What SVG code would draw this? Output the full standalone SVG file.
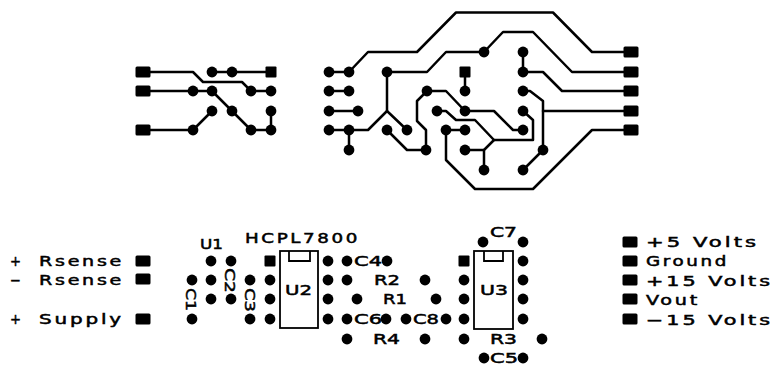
<svg xmlns="http://www.w3.org/2000/svg" width="775" height="367" viewBox="0 0 775 367">
<style>
.t{fill:none;stroke:#000;stroke-width:2.5;stroke-linejoin:round;stroke-linecap:round}
.d{fill:#000}
.b{fill:none;stroke:#000;stroke-width:1.8}
.l{font-family:"DejaVu Sans",sans-serif;font-size:14px;fill:#000;stroke:#000;stroke-width:.5}
.w{letter-spacing:2px}
</style>
<defs>
<circle id="o" r="5.4" class="d"/>
<rect id="p" x="-7.500" y="-5.500" width="15" height="11" rx="1.5" class="d"/>
<rect id="s" x="-5.500" y="-5.500" width="11" height="11" rx="1" class="d"/>
</defs>
<rect width="775" height="367" fill="#fff"/>
<g id="connectors">
<path class="t" d="M143 72H193L203 82H242L251 91H271"/>
<path class="t" d="M212 72H271"/>
<path class="t" d="M143 91H212L251 130H271V111"/>
<path class="t" d="M143 130H193L212 111"/>
<path class="t" d="M329 72H349L368 52H417L456 12.500H553L592 52H631"/>
<path class="t" d="M329 91H349"/>
<path class="t" d="M329 111H358"/>
<path class="t" d="M329 130H368L387 111L407 130"/>
<path class="t" d="M349 130V150"/>
<path class="t" d="M631 72H572L533 32H503L484 52L465 52H446L427 72H387V111"/>
<path class="t" d="M387 130L407 150H426V130L417 121V101L427 91H446L465 111H494L513 130H523"/>
<path class="t" d="M465 72V91"/>
<path class="t" d="M437 111H446L456 120H475L494 140H533V120L523 111"/>
<path class="t" d="M494 140L484 150V170"/>
<path class="t" d="M465 150H484"/>
<path class="t" d="M446 130H465"/>
<path class="t" d="M446 130V160L475 189H533L592 130H631"/>
<path class="t" d="M523 52V72H543L562 91H631"/>
<path class="t" d="M523 91H530L543 101V150L523 170"/>
<path class="t" d="M543 111H631"/>
</g>
<g id="layout-top-left">
<use href="#p" x="143" y="72"/><use href="#p" x="143" y="91"/><use href="#p" x="143" y="130"/>
<use href="#o" x="212" y="72"/><use href="#o" x="232" y="72"/><use href="#s" x="271" y="72"/>
<use href="#o" x="193" y="91"/><use href="#o" x="212" y="91"/><use href="#o" x="251" y="91"/><use href="#o" x="271" y="91"/>
<use href="#o" x="212" y="111"/><use href="#o" x="232" y="111"/><use href="#o" x="271" y="111"/>
<use href="#o" x="193" y="130"/><use href="#o" x="251" y="130"/><use href="#o" x="271" y="130"/>
</g>
<g id="layout-top-right">
<use href="#o" x="329" y="72"/><use href="#o" x="349" y="72"/><use href="#o" x="329" y="91"/><use href="#o" x="349" y="91"/>
<use href="#o" x="329" y="111"/><use href="#o" x="358" y="111"/><use href="#o" x="329" y="130"/><use href="#o" x="349" y="130"/><use href="#o" x="349" y="150"/>
<use href="#o" x="387" y="72"/><use href="#o" x="387" y="130"/><use href="#o" x="407" y="130"/><use href="#o" x="426" y="150"/>
<use href="#o" x="427" y="91"/><use href="#o" x="437" y="111"/><use href="#o" x="465" y="111"/><use href="#o" x="446" y="130"/><use href="#o" x="465" y="130"/><use href="#o" x="465" y="150"/>
<use href="#s" x="465" y="72"/><use href="#o" x="465" y="91"/><use href="#o" x="484" y="52"/><use href="#o" x="484" y="170"/>
<use href="#o" x="523" y="52"/><use href="#o" x="523" y="72"/><use href="#o" x="523" y="91"/><use href="#o" x="523" y="111"/><use href="#o" x="523" y="130"/><use href="#o" x="543" y="150"/><use href="#o" x="523" y="170"/>
<use href="#p" x="631" y="52"/><use href="#p" x="631" y="72"/><use href="#p" x="631" y="91"/><use href="#p" x="631" y="111"/><use href="#p" x="631" y="130"/>
</g>
<g id="labels-left">
<text class="l" x="10" y="266" textLength="11" lengthAdjust="spacingAndGlyphs">+</text>
<text class="l w" x="39" y="266" textLength="85" lengthAdjust="spacingAndGlyphs">Rsense</text>
<use href="#p" x="143" y="261"/>
<text class="l" x="10" y="285" textLength="11" lengthAdjust="spacingAndGlyphs">−</text>
<text class="l w" x="39" y="285" textLength="85" lengthAdjust="spacingAndGlyphs">Rsense</text>
<use href="#p" x="143" y="279"/>
<text class="l" x="10" y="324" textLength="11" lengthAdjust="spacingAndGlyphs">+</text>
<text class="l w" x="39" y="324" textLength="85" lengthAdjust="spacingAndGlyphs">Supply</text>
<use href="#p" x="143" y="319"/>
</g>
<g id="U1">
<text class="l" x="200" y="249" textLength="23" lengthAdjust="spacingAndGlyphs">U1</text>
<use href="#o" x="211" y="261"/><use href="#o" x="231" y="261"/><use href="#o" x="211" y="280"/><use href="#o" x="211" y="299"/><use href="#o" x="231" y="299"/>
</g>
<g id="C1"><use href="#o" x="192" y="280"/><use href="#o" x="192" y="319"/>
<text class="l" transform="translate(186 288) rotate(90)" textLength="23" lengthAdjust="spacingAndGlyphs">C1</text></g>
<g id="C2"><text class="l" transform="translate(225 268) rotate(90)" textLength="25" lengthAdjust="spacingAndGlyphs">C2</text></g>
<g id="C3"><use href="#o" x="250" y="280"/><use href="#o" x="250" y="319"/>
<text class="l" transform="translate(245 288) rotate(90)" textLength="24" lengthAdjust="spacingAndGlyphs">C3</text></g>
<g id="U2">
<text class="l w" x="245" y="243" textLength="115" lengthAdjust="spacingAndGlyphs">HCPL7800</text>
<rect class="b" x="280" y="251" width="38" height="77"/>
<path class="b" d="M289 251V261H310V251"/>
<text class="l" x="285" y="295" textLength="27" lengthAdjust="spacingAndGlyphs">U2</text>
<use href="#s" x="270" y="261"/><use href="#o" x="270" y="280"/><use href="#o" x="270" y="299"/><use href="#o" x="270" y="319"/>
<use href="#o" x="328" y="261"/><use href="#o" x="328" y="280"/><use href="#o" x="328" y="299"/><use href="#o" x="328" y="319"/>
</g>
<g id="C4"><use href="#o" x="347" y="261"/><use href="#o" x="387" y="261"/><text class="l" x="354" y="266" textLength="28" lengthAdjust="spacingAndGlyphs">C4</text></g>
<g id="R2"><use href="#o" x="347" y="280"/><use href="#o" x="425" y="280"/><text class="l" x="374" y="285" textLength="26" lengthAdjust="spacingAndGlyphs">R2</text></g>
<g id="R1"><use href="#o" x="357" y="299"/><use href="#o" x="436" y="299"/><text class="l" x="383" y="304" textLength="24" lengthAdjust="spacingAndGlyphs">R1</text></g>
<g id="C6"><use href="#o" x="347" y="319"/><use href="#o" x="386" y="319"/><text class="l" x="354" y="324" textLength="28" lengthAdjust="spacingAndGlyphs">C6</text></g>
<g id="C8"><use href="#o" x="406" y="319"/><use href="#o" x="446" y="319"/><text class="l" x="413" y="324" textLength="26" lengthAdjust="spacingAndGlyphs">C8</text></g>
<g id="R4"><use href="#o" x="347" y="339"/><use href="#o" x="425" y="339"/><text class="l" x="373" y="344" textLength="27" lengthAdjust="spacingAndGlyphs">R4</text></g>
<g id="U3">
<rect class="b" x="474" y="251" width="39" height="78"/>
<path class="b" d="M484 251V261H503V251"/>
<text class="l" x="480" y="295" textLength="28" lengthAdjust="spacingAndGlyphs">U3</text>
<use href="#s" x="464" y="261"/><use href="#o" x="464" y="280"/><use href="#o" x="464" y="299"/><use href="#o" x="464" y="319"/>
<use href="#o" x="523" y="261"/><use href="#o" x="523" y="280"/><use href="#o" x="523" y="299"/><use href="#o" x="523" y="319"/>
</g>
<g id="C7"><use href="#o" x="483" y="242"/><use href="#o" x="523" y="242"/><text class="l" x="490" y="237" textLength="27" lengthAdjust="spacingAndGlyphs">C7</text></g>
<g id="R3"><use href="#o" x="464" y="339"/><use href="#o" x="542" y="339"/><text class="l" x="490" y="344" textLength="27" lengthAdjust="spacingAndGlyphs">R3</text></g>
<g id="C5"><use href="#o" x="484" y="358"/><use href="#o" x="523" y="358"/><text class="l" x="490" y="363" textLength="28" lengthAdjust="spacingAndGlyphs">C5</text></g>
<g id="labels-right">
<use href="#p" x="630" y="242"/><text class="l w" x="646" y="247" textLength="113" lengthAdjust="spacingAndGlyphs">+5 Volts</text>
<use href="#p" x="630" y="261"/><text class="l w" x="646" y="266" textLength="83" lengthAdjust="spacingAndGlyphs">Ground</text>
<use href="#p" x="630" y="280"/><text class="l w" x="646" y="286" textLength="127" lengthAdjust="spacingAndGlyphs">+15 Volts</text>
<use href="#p" x="630" y="299"/><text class="l w" x="646" y="305" textLength="54" lengthAdjust="spacingAndGlyphs">Vout</text>
<use href="#p" x="630" y="319"/><text class="l w" x="646" y="325" textLength="127" lengthAdjust="spacingAndGlyphs">−15 Volts</text>
</g>
</svg>
